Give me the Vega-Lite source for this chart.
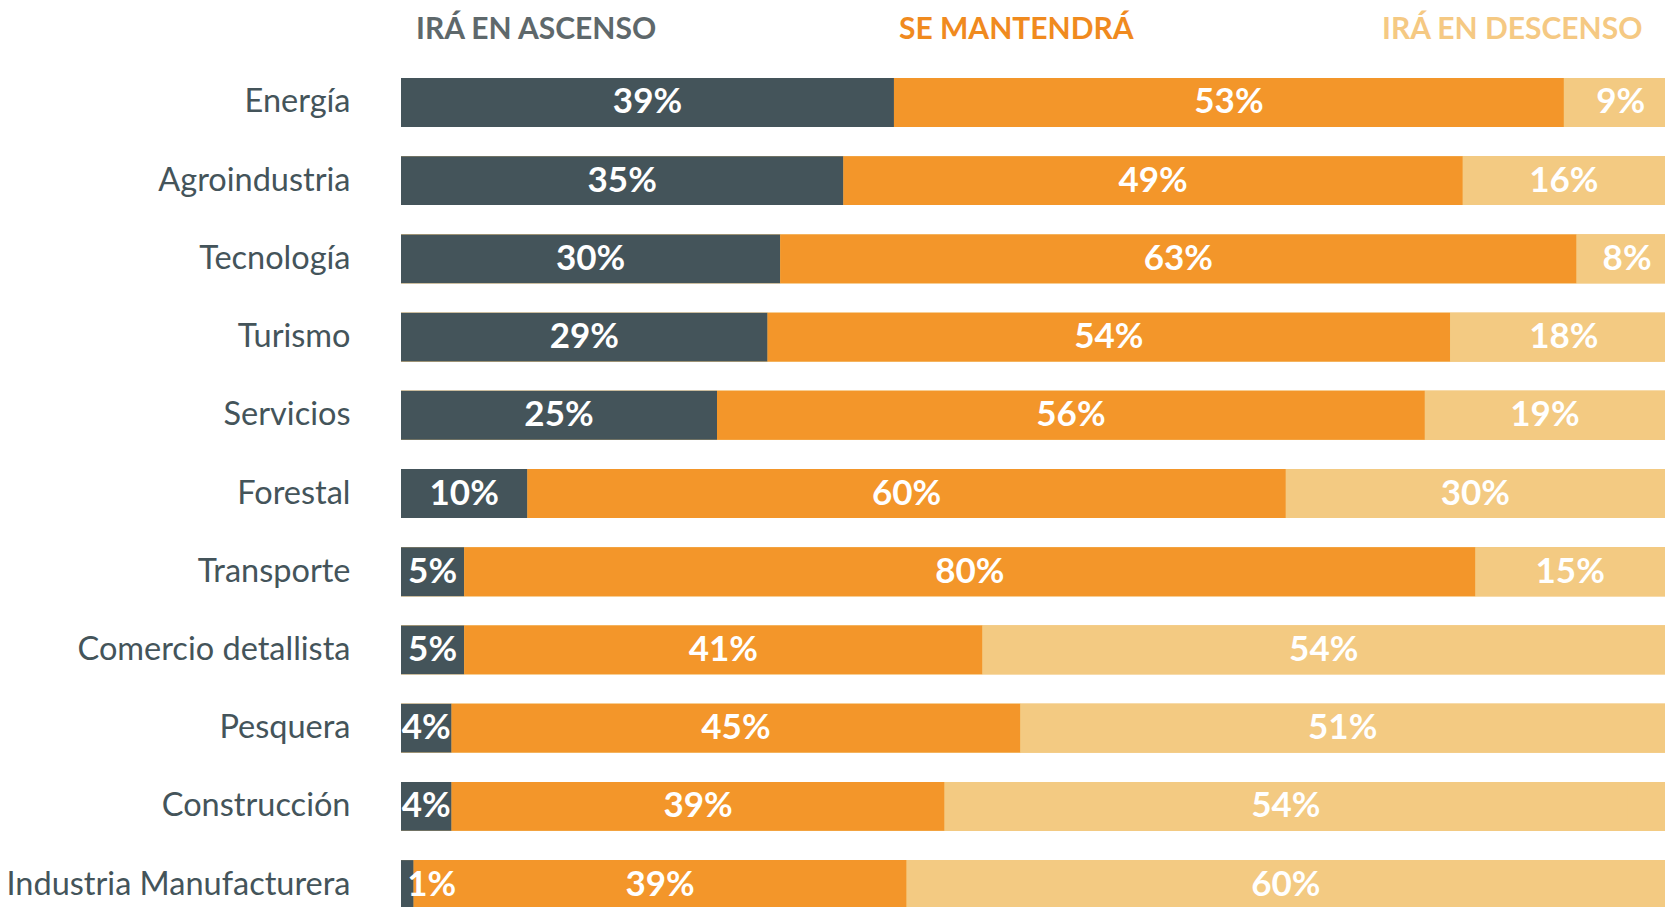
{
  "$schema": "https://vega.github.io/schema/vega-lite/v6.json",
  "width": 1264,
  "height": 831,
  "autosize": {"type": "none"},
  "padding": {"left": 401, "top": 78, "right": 0, "bottom": 0},
  "background": "white",
  "config": {"view": {"stroke": null}, "font": "Lato"},
  "data": {"values": [
    {"sector": "Energía", "serie": "IRÁ EN ASCENSO", "orden": 1, "pct": 39, "etiqueta": "39%"},
    {"sector": "Energía", "serie": "SE MANTENDRÁ", "orden": 2, "pct": 53, "etiqueta": "53%"},
    {"sector": "Energía", "serie": "IRÁ EN DESCENSO", "orden": 3, "pct": 9, "etiqueta": "9%"},
    {"sector": "Agroindustria", "serie": "IRÁ EN ASCENSO", "orden": 1, "pct": 35, "etiqueta": "35%"},
    {"sector": "Agroindustria", "serie": "SE MANTENDRÁ", "orden": 2, "pct": 49, "etiqueta": "49%"},
    {"sector": "Agroindustria", "serie": "IRÁ EN DESCENSO", "orden": 3, "pct": 16, "etiqueta": "16%"},
    {"sector": "Tecnología", "serie": "IRÁ EN ASCENSO", "orden": 1, "pct": 30, "etiqueta": "30%"},
    {"sector": "Tecnología", "serie": "SE MANTENDRÁ", "orden": 2, "pct": 63, "etiqueta": "63%"},
    {"sector": "Tecnología", "serie": "IRÁ EN DESCENSO", "orden": 3, "pct": 8, "etiqueta": "8%"},
    {"sector": "Turismo", "serie": "IRÁ EN ASCENSO", "orden": 1, "pct": 29, "etiqueta": "29%"},
    {"sector": "Turismo", "serie": "SE MANTENDRÁ", "orden": 2, "pct": 54, "etiqueta": "54%"},
    {"sector": "Turismo", "serie": "IRÁ EN DESCENSO", "orden": 3, "pct": 18, "etiqueta": "18%"},
    {"sector": "Servicios", "serie": "IRÁ EN ASCENSO", "orden": 1, "pct": 25, "etiqueta": "25%"},
    {"sector": "Servicios", "serie": "SE MANTENDRÁ", "orden": 2, "pct": 56, "etiqueta": "56%"},
    {"sector": "Servicios", "serie": "IRÁ EN DESCENSO", "orden": 3, "pct": 19, "etiqueta": "19%"},
    {"sector": "Forestal", "serie": "IRÁ EN ASCENSO", "orden": 1, "pct": 10, "etiqueta": "10%"},
    {"sector": "Forestal", "serie": "SE MANTENDRÁ", "orden": 2, "pct": 60, "etiqueta": "60%"},
    {"sector": "Forestal", "serie": "IRÁ EN DESCENSO", "orden": 3, "pct": 30, "etiqueta": "30%"},
    {"sector": "Transporte", "serie": "IRÁ EN ASCENSO", "orden": 1, "pct": 5, "etiqueta": "5%"},
    {"sector": "Transporte", "serie": "SE MANTENDRÁ", "orden": 2, "pct": 80, "etiqueta": "80%"},
    {"sector": "Transporte", "serie": "IRÁ EN DESCENSO", "orden": 3, "pct": 15, "etiqueta": "15%"},
    {"sector": "Comercio detallista", "serie": "IRÁ EN ASCENSO", "orden": 1, "pct": 5, "etiqueta": "5%"},
    {"sector": "Comercio detallista", "serie": "SE MANTENDRÁ", "orden": 2, "pct": 41, "etiqueta": "41%"},
    {"sector": "Comercio detallista", "serie": "IRÁ EN DESCENSO", "orden": 3, "pct": 54, "etiqueta": "54%"},
    {"sector": "Pesquera", "serie": "IRÁ EN ASCENSO", "orden": 1, "pct": 4, "etiqueta": "4%"},
    {"sector": "Pesquera", "serie": "SE MANTENDRÁ", "orden": 2, "pct": 45, "etiqueta": "45%"},
    {"sector": "Pesquera", "serie": "IRÁ EN DESCENSO", "orden": 3, "pct": 51, "etiqueta": "51%"},
    {"sector": "Construcción", "serie": "IRÁ EN ASCENSO", "orden": 1, "pct": 4, "etiqueta": "4%"},
    {"sector": "Construcción", "serie": "SE MANTENDRÁ", "orden": 2, "pct": 39, "etiqueta": "39%"},
    {"sector": "Construcción", "serie": "IRÁ EN DESCENSO", "orden": 3, "pct": 54, "etiqueta": "54%"},
    {"sector": "Industria Manufacturera", "serie": "IRÁ EN ASCENSO", "orden": 1, "pct": 1, "etiqueta": "1%"},
    {"sector": "Industria Manufacturera", "serie": "SE MANTENDRÁ", "orden": 2, "pct": 39, "etiqueta": "39%"},
    {"sector": "Industria Manufacturera", "serie": "IRÁ EN DESCENSO", "orden": 3, "pct": 60, "etiqueta": "60%"}
  ]},
  "transform": [
    {"stack": "pct", "groupby": ["sector"], "sort": [{"field": "orden", "order": "ascending"}], "as": ["x0", "x1"]},
    {"calculate": "(datum.x0 + datum.x1) / 2", "as": "centro"}
  ],
  "encoding": {
    "y": {
      "field": "sector",
      "type": "nominal",
      "sort": ["Energía", "Agroindustria", "Tecnología", "Turismo", "Servicios", "Forestal", "Transporte", "Comercio detallista", "Pesquera", "Construcción", "Industria Manufacturera"],
      "scale": {"paddingInner": 0.375, "paddingOuter": 0, "align": 0},
      "axis": {"title": null, "domain": false, "ticks": false, "labelFont": "Lato", "labelFontSize": 32.5, "labelColor": "#44545A", "labelPadding": 51, "labelLimit": 500}
    }
  },
  "layer": [
    {
      "mark": {"type": "bar", "color": "#F3CA82"},
      "encoding": {
        "x": {"datum": 0, "type": "quantitative", "scale": {"domain": [0, 100], "nice": false, "zero": true}, "axis": null},
        "x2": {"datum": 100}
      }
    },
    {
      "mark": {"type": "bar", "clip": true},
      "encoding": {
        "x": {"field": "x0", "type": "quantitative", "axis": null},
        "x2": {"field": "x1"},
        "color": {
          "field": "serie",
          "type": "nominal",
          "scale": {"domain": ["IRÁ EN ASCENSO", "SE MANTENDRÁ", "IRÁ EN DESCENSO"], "range": ["#44545A", "#F3962A", "#F3CA82"]},
          "legend": {
            "orient": "top",
            "direction": "horizontal",
            "title": null,
            "offset": 33,
            "padding": 0,
            "symbolSize": 0,
            "symbolOpacity": 0,
            "symbolStrokeWidth": 0,
            "labelFont": "Lato",
            "labelFontWeight": "bold",
            "labelFontSize": 30,
            "labelOffset": -15,
            "labelLimit": 400,
            "gridAlign": "all",
            "columnPadding": 206,
            "encode": {"labels": {"update": {"fill": {"signal": "datum.value === 'IRÁ EN ASCENSO' ? '#5E686B' : datum.value === 'SE MANTENDRÁ' ? '#F08A1E' : '#F5C983'"}}}}
          }
        }
      }
    },
    {
      "mark": {"type": "text", "color": "white", "font": "Lato", "fontWeight": "bold", "fontSize": 35, "align": {"expr": "datum.x1 < 2 ? 'left' : 'center'"}},
      "encoding": {
        "x": {"field": "centro", "type": "quantitative"},
        "text": {"field": "etiqueta", "type": "nominal"}
      }
    }
  ]
}
